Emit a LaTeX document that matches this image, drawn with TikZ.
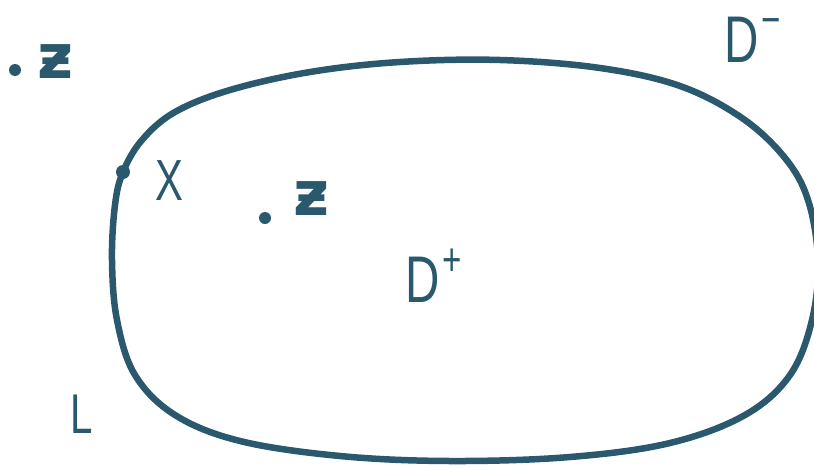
\documentclass[tikz,border=0pt]{standalone}
\usepackage{fontspec}
\setmainfont{Liberation Sans}[FakeStretch=0.72]
\newfontfamily\zfont{DejaVu Sans}
\definecolor{ink}{RGB}{42,88,108}
\newcommand{\supmark}[1]{\hspace{3pt}\raisebox{27pt}{\fontsize{46}{46}\selectfont #1}}
\begin{document}
\begin{tikzpicture}[x=1pt,y=-1pt,
  lab/.style={text=ink,font=\fontsize{66}{66}\selectfont,inner sep=0pt},
  zmark/.style={text=ink,font=\zfont\bfseries\fontsize{62}{62}\selectfont,inner sep=0pt},
  pt/.style={circle,fill=ink,inner sep=0pt,minimum size=12pt}]
\useasboundingbox (0,0) rectangle (814,466);
\clip (0,0) rectangle (814,466);
\draw[ink,line width=6.5pt,line join=round] plot[smooth cycle,tension=0.6] coordinates {
 (123,172) (142,140) (175,112) (230,90) (310,72) (400,62) (500,60) (600,68)
 (680,86) (742,118) (785,158) (808,200) (818,260) (812,320) (790,375)
 (745,415) (670,443) (570,457) (450,461) (340,456) (240,441) (175,415)
 (135,375) (117,320) (112,260) (115,205)};
\node[pt,minimum size=14pt] (x) at (123,172) {};
\node[lab,font=\fontsize{58}{58}\selectfont] (xl) at (169,181) {X};
\node[pt] (p1) at (15,70) {};
\node[zmark] (z1) at (56,62) {ƶ};
\node[pt] (p2) at (265,218) {};
\node[zmark] (z2) at (312,199) {ƶ};
\node[lab,anchor=base west] (dm) at (724,62) {D\supmark{−}};
\node[lab,anchor=base west] (dp) at (405,302) {D\supmark{+}};
\node[lab,font=\fontsize{56}{56}\selectfont,anchor=base west] (L) at (70,433) {L};
\end{tikzpicture}
\end{document}
